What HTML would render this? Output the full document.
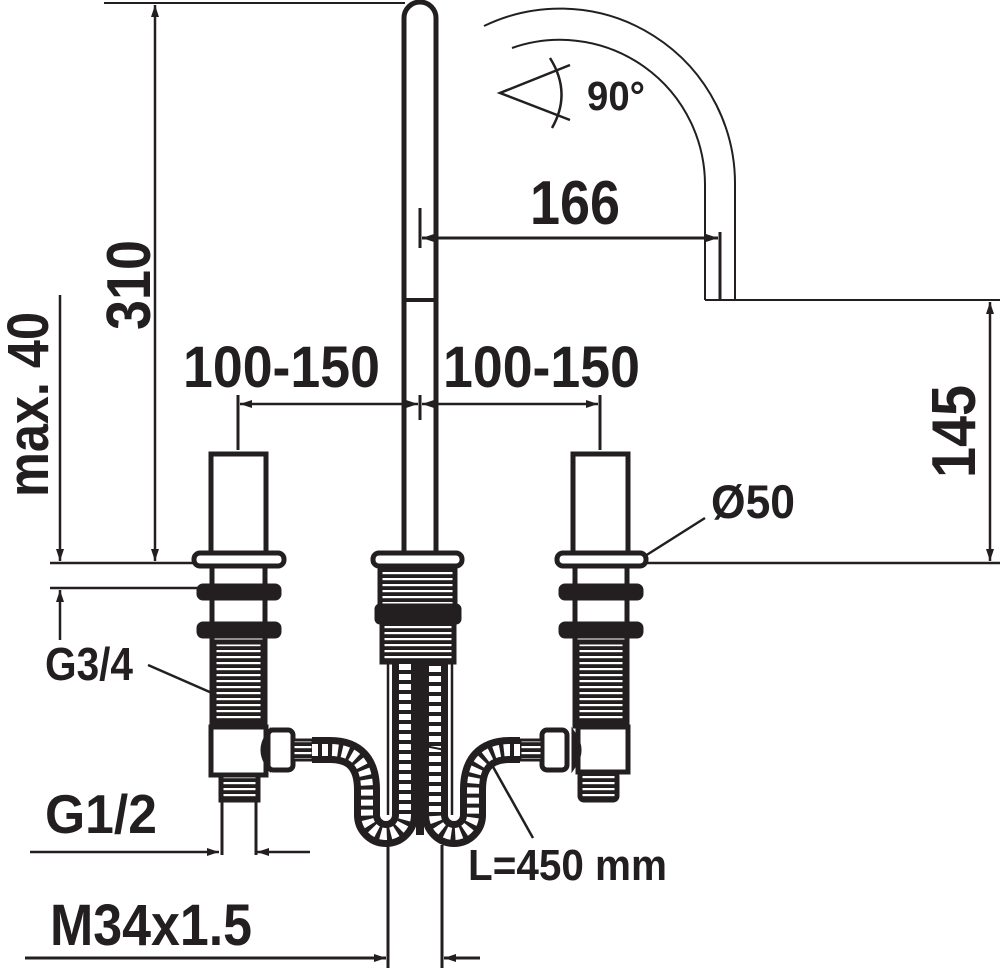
<!DOCTYPE html>
<html><head><meta charset="utf-8"><style>
html,body{margin:0;padding:0;background:#fff}
svg{display:block}
text{font-family:"Liberation Sans",sans-serif;font-weight:bold;fill:#231f20}
</style></head><body>
<svg width="1000" height="968" viewBox="0 0 1000 968" xmlns="http://www.w3.org/2000/svg">
<defs>
<pattern id="thr" width="10" height="6" patternUnits="userSpaceOnUse"><rect width="10" height="6" fill="#231f20"/><rect y="2" width="10" height="2.2" fill="#fff"/></pattern>
<marker id="a" viewBox="0 0 12 8" refX="12" refY="4" markerWidth="12" markerHeight="8" orient="auto-start-reverse" markerUnits="userSpaceOnUse"><path d="M0,0 L12,4 L0,8 Z" fill="#231f20"/></marker>
</defs>
<g stroke="#231f20" fill="none">
<path d="M404,555 V18 A16,16 0 0 1 436,18 V555" stroke-width="5"/>
<line x1="404" y1="300" x2="436" y2="300" stroke-width="4"/>
<path d="M104,3 H405" stroke-width="2"/>
<path d="M484,26 A175,175 0 0 1 735,185 V300" stroke-width="2"/>
<path d="M512,48 A145,145 0 0 1 705,185 V300" stroke-width="2"/>
<line x1="705" y1="300" x2="1000" y2="300" stroke-width="2"/>
<line x1="720" y1="232" x2="720" y2="300" stroke-width="3"/>
<line x1="420" y1="208" x2="420" y2="248" stroke-width="3"/>
<line x1="422" y1="238" x2="718" y2="238" stroke-width="3" marker-start="url(#a)" marker-end="url(#a)"/>
<path d="M570,65 L500,93 L570,120" stroke-width="2.5"/>
<path d="M550,58 Q572,93 552,128" stroke-width="2.5"/>
<line x1="155" y1="5" x2="155" y2="561" stroke-width="2.5" marker-start="url(#a)" marker-end="url(#a)"/>
<line x1="60" y1="295" x2="60" y2="561" stroke-width="2.5" marker-end="url(#a)"/>
<line x1="60" y1="590" x2="60" y2="640" stroke-width="2.5" marker-start="url(#a)"/>
<line x1="50" y1="563" x2="196" y2="563" stroke-width="2.5"/>
<line x1="50" y1="588" x2="200" y2="588" stroke-width="2.5"/>
<line x1="640" y1="563" x2="1000" y2="563" stroke-width="2.5"/>
<line x1="990" y1="302" x2="990" y2="561" stroke-width="2.5" marker-start="url(#a)" marker-end="url(#a)"/>
<line x1="238" y1="395" x2="238" y2="450" stroke-width="3"/>
<line x1="600" y1="395" x2="600" y2="450" stroke-width="3"/>
<line x1="420" y1="395" x2="420" y2="420" stroke-width="3"/>
<line x1="240" y1="404" x2="418" y2="404" stroke-width="2.5" marker-start="url(#a)" marker-end="url(#a)"/>
<line x1="422" y1="404" x2="598" y2="404" stroke-width="2.5" marker-start="url(#a)" marker-end="url(#a)"/>
<line x1="148" y1="665" x2="212" y2="693" stroke-width="2.5"/>
<line x1="705" y1="518" x2="645" y2="556" stroke-width="2.5"/>
<line x1="533" y1="838" x2="492" y2="765" stroke-width="2.5"/>
<line x1="30" y1="852" x2="219" y2="852" stroke-width="2.5" marker-end="url(#a)"/>
<line x1="310" y1="852" x2="257" y2="852" stroke-width="2.5" marker-end="url(#a)"/>
<line x1="25" y1="958" x2="386" y2="958" stroke-width="3" marker-end="url(#a)"/>
<line x1="388" y1="845" x2="388" y2="968" stroke-width="3"/>
<line x1="442" y1="845" x2="442" y2="968" stroke-width="3"/>
<line x1="480" y1="958" x2="444" y2="958" stroke-width="3" marker-end="url(#a)"/>
</g>

<g stroke="#231f20" stroke-width="5" fill="#fff">
<rect x="211" y="454" width="55" height="100"/>
<rect x="212" y="566" width="53" height="160"/>
<rect x="194" y="553" width="90" height="13" rx="6"/>
<rect x="199" y="586" width="80" height="12" rx="4" fill="#231f20"/>
<rect x="199" y="624" width="80" height="12" rx="4" fill="#231f20"/>
<rect x="214" y="642" width="49" height="82" fill="url(#thr)"/>
<rect x="211" y="727" width="55" height="48"/>
<rect x="221" y="775" width="37" height="25" fill="url(#thr)"/>
<path d="M222,800 V855 M256,800 V855" fill="none" stroke-width="3"/>
<rect x="268" y="730" width="25" height="40" rx="5"/>
<path d="M268,735 Q258,750 268,765 Z" fill="#231f20"/>
<rect x="293" y="740" width="20" height="20" fill="url(#thr)" stroke-width="3"/>
<rect x="573" y="454" width="55" height="100"/>
<rect x="575" y="566" width="52" height="160"/>
<rect x="557" y="553" width="89" height="13" rx="6"/>
<rect x="561" y="586" width="80" height="12" rx="4" fill="#231f20"/>
<rect x="561" y="624" width="80" height="12" rx="4" fill="#231f20"/>
<rect x="577" y="642" width="48" height="82" fill="url(#thr)"/>
<rect x="578" y="727" width="50" height="45"/>
<rect x="580" y="772" width="37" height="28" rx="4" fill="url(#thr)"/>
<rect x="542" y="730" width="25" height="40" rx="5"/>
<path d="M574,735 Q584,750 574,765 Z" fill="#231f20"/>
<rect x="520" y="740" width="22" height="20" fill="url(#thr)" stroke-width="3"/>
<rect x="373" y="553" width="89" height="13" rx="6"/>
<rect x="380" y="566" width="75" height="40" fill="url(#thr)"/>
<rect x="377" y="606" width="82" height="16" rx="3" fill="#231f20"/>
<rect x="382" y="622" width="72" height="40" fill="url(#thr)"/>
</g>
<g fill="none" stroke-linecap="butt">
<path d="M312,750 H330 Q367,750 367,790 V815 A19,19 0 0 0 405,815 V662" stroke="#231f20" stroke-width="26"/>
<path d="M312,750 H330 Q367,750 367,790 V815 A19,19 0 0 0 405,815 V662" stroke="#fff" stroke-width="12" stroke-dasharray="6 4"/>
<path d="M520,750 H510 Q473,750 473,790 V815 A19,19 0 0 1 435,815 V662" stroke="#231f20" stroke-width="26"/>
<path d="M520,750 H510 Q473,750 473,790 V815 A19,19 0 0 1 435,815 V662" stroke="#fff" stroke-width="12" stroke-dasharray="6 4"/>
<line x1="420" y1="662" x2="420" y2="835" stroke="#231f20" stroke-width="8"/>
<line x1="388" y1="662" x2="388" y2="815" stroke="#231f20" stroke-width="2.5"/>
<line x1="452" y1="662" x2="452" y2="815" stroke="#231f20" stroke-width="2.5"/>
<line x1="395" y1="740" x2="445" y2="750" stroke="#231f20" stroke-width="2"/>
</g>

<text x="530" y="224" font-size="62" textLength="90" lengthAdjust="spacingAndGlyphs">166</text>
<text x="587" y="110" font-size="41" textLength="58" lengthAdjust="spacingAndGlyphs">90°</text>
<text transform="translate(150,330) rotate(-90)" font-size="62" textLength="90" lengthAdjust="spacingAndGlyphs">310</text>
<text transform="translate(48,497) rotate(-90)" font-size="58" textLength="185" lengthAdjust="spacingAndGlyphs">max. 40</text>
<text transform="translate(975,478) rotate(-90)" font-size="62" textLength="93" lengthAdjust="spacingAndGlyphs">145</text>
<text x="183" y="387" font-size="58" textLength="197" lengthAdjust="spacingAndGlyphs">100-150</text>
<text x="443" y="387" font-size="58" textLength="197" lengthAdjust="spacingAndGlyphs">100-150</text>
<text x="711" y="518" font-size="47" textLength="84" lengthAdjust="spacingAndGlyphs">Ø50</text>
<text x="45" y="680" font-size="46" textLength="88" lengthAdjust="spacingAndGlyphs">G3/4</text>
<text x="45" y="833" font-size="55" textLength="112" lengthAdjust="spacingAndGlyphs">G1/2</text>
<text x="468" y="880" font-size="44" textLength="199" lengthAdjust="spacingAndGlyphs">L=450 mm</text>
<text x="50" y="945" font-size="58" textLength="202" lengthAdjust="spacingAndGlyphs">M34x1.5</text>
</svg>
</body></html>
